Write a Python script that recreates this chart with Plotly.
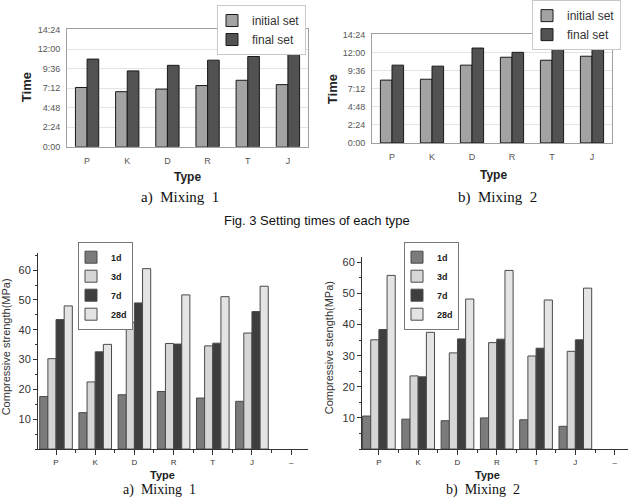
import plotly.graph_objects as go

W, H = 628, 500

# ---------------- data ----------------
types = ["P", "K", "D", "R", "T", "J"]
types_axis = ["P", "K", "D", "R", "T", "J", "–"]

# setting times in minutes
mix1_initial = [437, 406, 425, 451, 490, 458]
mix1_final = [646, 559, 600, 638, 665, 698]
mix2_initial = [500, 507, 619, 682, 658, 690]
mix2_final = [619, 611, 755, 721, 768, 760]
time_ticks = [0, 144, 288, 432, 576, 720, 864]
time_labels = ["0:00", "2:24", "4:48", "7:12", "9:36", "12:00", "14:24"]

# compressive strength (MPa)
ages = ["1d", "3d", "7d", "28d"]
mix1_strength = {
    "1d": [17.6, 12.2, 18.2, 19.3, 17.1, 16.0],
    "3d": [30.3, 22.5, 42.5, 35.4, 34.6, 38.9],
    "7d": [43.4, 32.6, 49.0, 35.2, 35.5, 46.1],
    "28d": [48.0, 35.1, 60.5, 51.7, 51.1, 54.6],
}
mix2_strength = {
    "1d": [10.6, 9.6, 9.1, 10.0, 9.4, 7.3],
    "3d": [35.1, 23.5, 30.9, 34.2, 29.9, 31.4],
    "7d": [38.4, 23.2, 35.4, 35.3, 32.4, 35.1],
    "28d": [55.8, 37.5, 48.2, 57.4, 47.9, 51.7],
}
strength_ticks = [10, 20, 30, 40, 50, 60]

# ---------------- helpers ----------------
def px(x):
    return x / W

def py(y):
    return 1 - y / H

age_colors = {"1d": "#7b7b7b", "3d": "#d6d6d6", "7d": "#3e3e3e", "28d": "#e4e4e4"}
SANS = "Liberation Sans"
SERIF = "Liberation Serif"

fig = go.Figure()

# ---------- top charts (setting time) ----------
for k, (ini, fin) in enumerate([(mix1_initial, mix1_final), (mix2_initial, mix2_final)]):
    xa = "x" if k == 0 else "x2"
    ya = "y" if k == 0 else "y2"
    lg = "legend" if k == 0 else "legend2"
    bw = 0.29
    fig.add_trace(go.Bar(x=types, y=ini, name="initial set", xaxis=xa, yaxis=ya,
                         width=bw, offset=-bw, legend=lg,
                         marker=dict(color="#a3a3a3", line=dict(color="#1a1a1a", width=1))))
    fig.add_trace(go.Bar(x=types, y=fin, name="final set", xaxis=xa, yaxis=ya,
                         width=bw, offset=0, legend=lg,
                         marker=dict(color="#525252", line=dict(color="#1a1a1a", width=1))))

# ---------- bottom charts (compressive strength) ----------
xs_idx = list(range(len(types)))
for k, data in enumerate([mix1_strength, mix2_strength]):
    xa = "x3" if k == 0 else "x4"
    ya = "y3" if k == 0 else "y4"
    lg = "legend3" if k == 0 else "legend4"
    bw = 0.208
    for i, a in enumerate(ages):
        fig.add_trace(go.Bar(x=xs_idx, y=data[a], name=a, xaxis=xa, yaxis=ya,
                             width=bw, offset=-2 * bw + i * bw, legend=lg,
                             marker=dict(color=age_colors[a], line=dict(color="#4a4a4a", width=1))))

# ---------- axes ----------
top_x = dict(type="category", categoryorder="array", categoryarray=types, range=[-0.5, 5.5],
             showline=True, mirror=True, linecolor="#a0a0a0", linewidth=1, ticks="",
             tickfont=dict(size=9, color="#555555", family=SANS), ticklabelstandoff=5,
             showgrid=False, zeroline=False)
top_y = dict(range=[0, 864], tickmode="array", tickvals=time_ticks, ticktext=time_labels,
             showline=True, mirror=True, linecolor="#a0a0a0", linewidth=1, ticks="",
             showgrid=True, gridcolor="#e4e4e4", zeroline=False,
             tickfont=dict(size=9, color="#555555", family=SANS), ticklabelstandoff=4)

fig.update_layout(
    xaxis=dict(top_x, domain=[px(67), px(308)], anchor="y"),
    yaxis=dict(top_y, domain=[py(144), py(24)], anchor="x"),
    xaxis2=dict(top_x, domain=[px(372), px(612)], anchor="y2"),
    yaxis2=dict(top_y, domain=[py(140), py(29)], anchor="x2"),
)

def bottom_x(dom, rng, anchor):
    return dict(domain=dom, range=rng, anchor=anchor, tickmode="array",
                tickvals=list(range(len(types_axis))), ticktext=types_axis,
                ticks="outside", ticklen=5, tickcolor="#333333",
                minor=dict(tickmode="array", tickvals=[i + 0.5 for i in range(len(types_axis) - 1)],
                           ticks="outside", ticklen=3, tickcolor="#333333"),
                showline=True, linecolor="#333333", linewidth=1, showgrid=False, zeroline=False,
                tickfont=dict(size=8, color="#333333", family=SANS))

def bottom_y(dom, rng, anchor):
    return dict(domain=dom, range=rng, anchor=anchor, tickmode="array", tickvals=strength_ticks,
                ticks="outside", ticklen=4, tickcolor="#333333",
                minor=dict(dtick=5, tick0=0, ticks="outside", ticklen=2.5, tickcolor="#333333"),
                showline=True, linecolor="#333333", linewidth=1, showgrid=False, zeroline=False,
                tickfont=dict(size=11, color="#333333", family=SANS), ticklabelstandoff=0)

fig.update_layout(
    xaxis3=bottom_x([px(38), px(308)], [-0.46, 6.43], "y3"),
    yaxis3=bottom_y([py(453), py(253)], [0, 65.6], "x3"),
    xaxis4=bottom_x([px(362), 1.0], [-0.43, 6.34], "y4"),
    yaxis4=bottom_y([py(453), py(257)], [0, 61.6], "x4"),
)

# ---------- legends ----------
top_leg = dict(bgcolor="white", bordercolor="#c8c8c8", borderwidth=1, xanchor="left", yanchor="top",
               font=dict(size=12, color="#333333", family=SANS), itemwidth=30,
               tracegroupgap=0, indentation=-6)
bot_leg = dict(bgcolor="white", bordercolor="#777777", borderwidth=1, xanchor="left", yanchor="top",
               font=dict(size=9, color="#222222", family=SANS, weight="bold"), itemwidth=30,
               tracegroupgap=0, indentation=-8)
fig.update_layout(
    legend=dict(top_leg, x=px(217), y=py(-1)),
    legend2=dict(top_leg, x=px(532), y=py(-6)),
    legend3=dict(bot_leg, x=px(78), y=py(241)),
    legend4=dict(bot_leg, x=px(404), y=py(241)),
)

# ---------- texts ----------
ann = []
def text(x, y, s, size, family=SANS, color="#222222", bold=False, angle=0):
    ann.append(dict(x=px(x), y=py(y), xref="paper", yref="paper", text=s, showarrow=False,
                    textangle=angle, xanchor="center", yanchor="middle",
                    font=dict(size=size, family=family, color=color,
                              weight="bold" if bold else "normal")))

text(26, 83, "Time", 13, bold=True, angle=-90)
text(187, 175, "Type", 12, bold=True)
text(332, 85, "Time", 13, bold=True, angle=-90)
text(493, 173, "Type", 12, bold=True)
text(180, 196, "a)  Mixing  1", 15, family=SERIF, color="#111111")
text(497, 196, "b)  Mixing  2", 15, family=SERIF, color="#111111")
text(317, 219, "Fig. 3 Setting times of each type", 13, color="#111111")
text(6, 349, "Compressive strength(MPa)", 11, color="#333333", angle=-90)
text(329, 350, "Compressive stength(MPa)", 11, color="#333333", angle=-90)
text(162, 480, "Type", 11, bold=True)
text(487, 480, "Type", 11, bold=True)
text(159, 495, "a)  Mixing  1", 14, family=SERIF, color="#111111")
text(483, 495, "b)  Mixing  2", 14, family=SERIF, color="#111111")

fig.update_layout(
    width=W, height=H, margin=dict(l=0, r=0, t=0, b=0),
    paper_bgcolor="white", plot_bgcolor="white",
    font=dict(family=SANS), annotations=ann, barmode="overlay",
)

fig.write_html("out.html")
